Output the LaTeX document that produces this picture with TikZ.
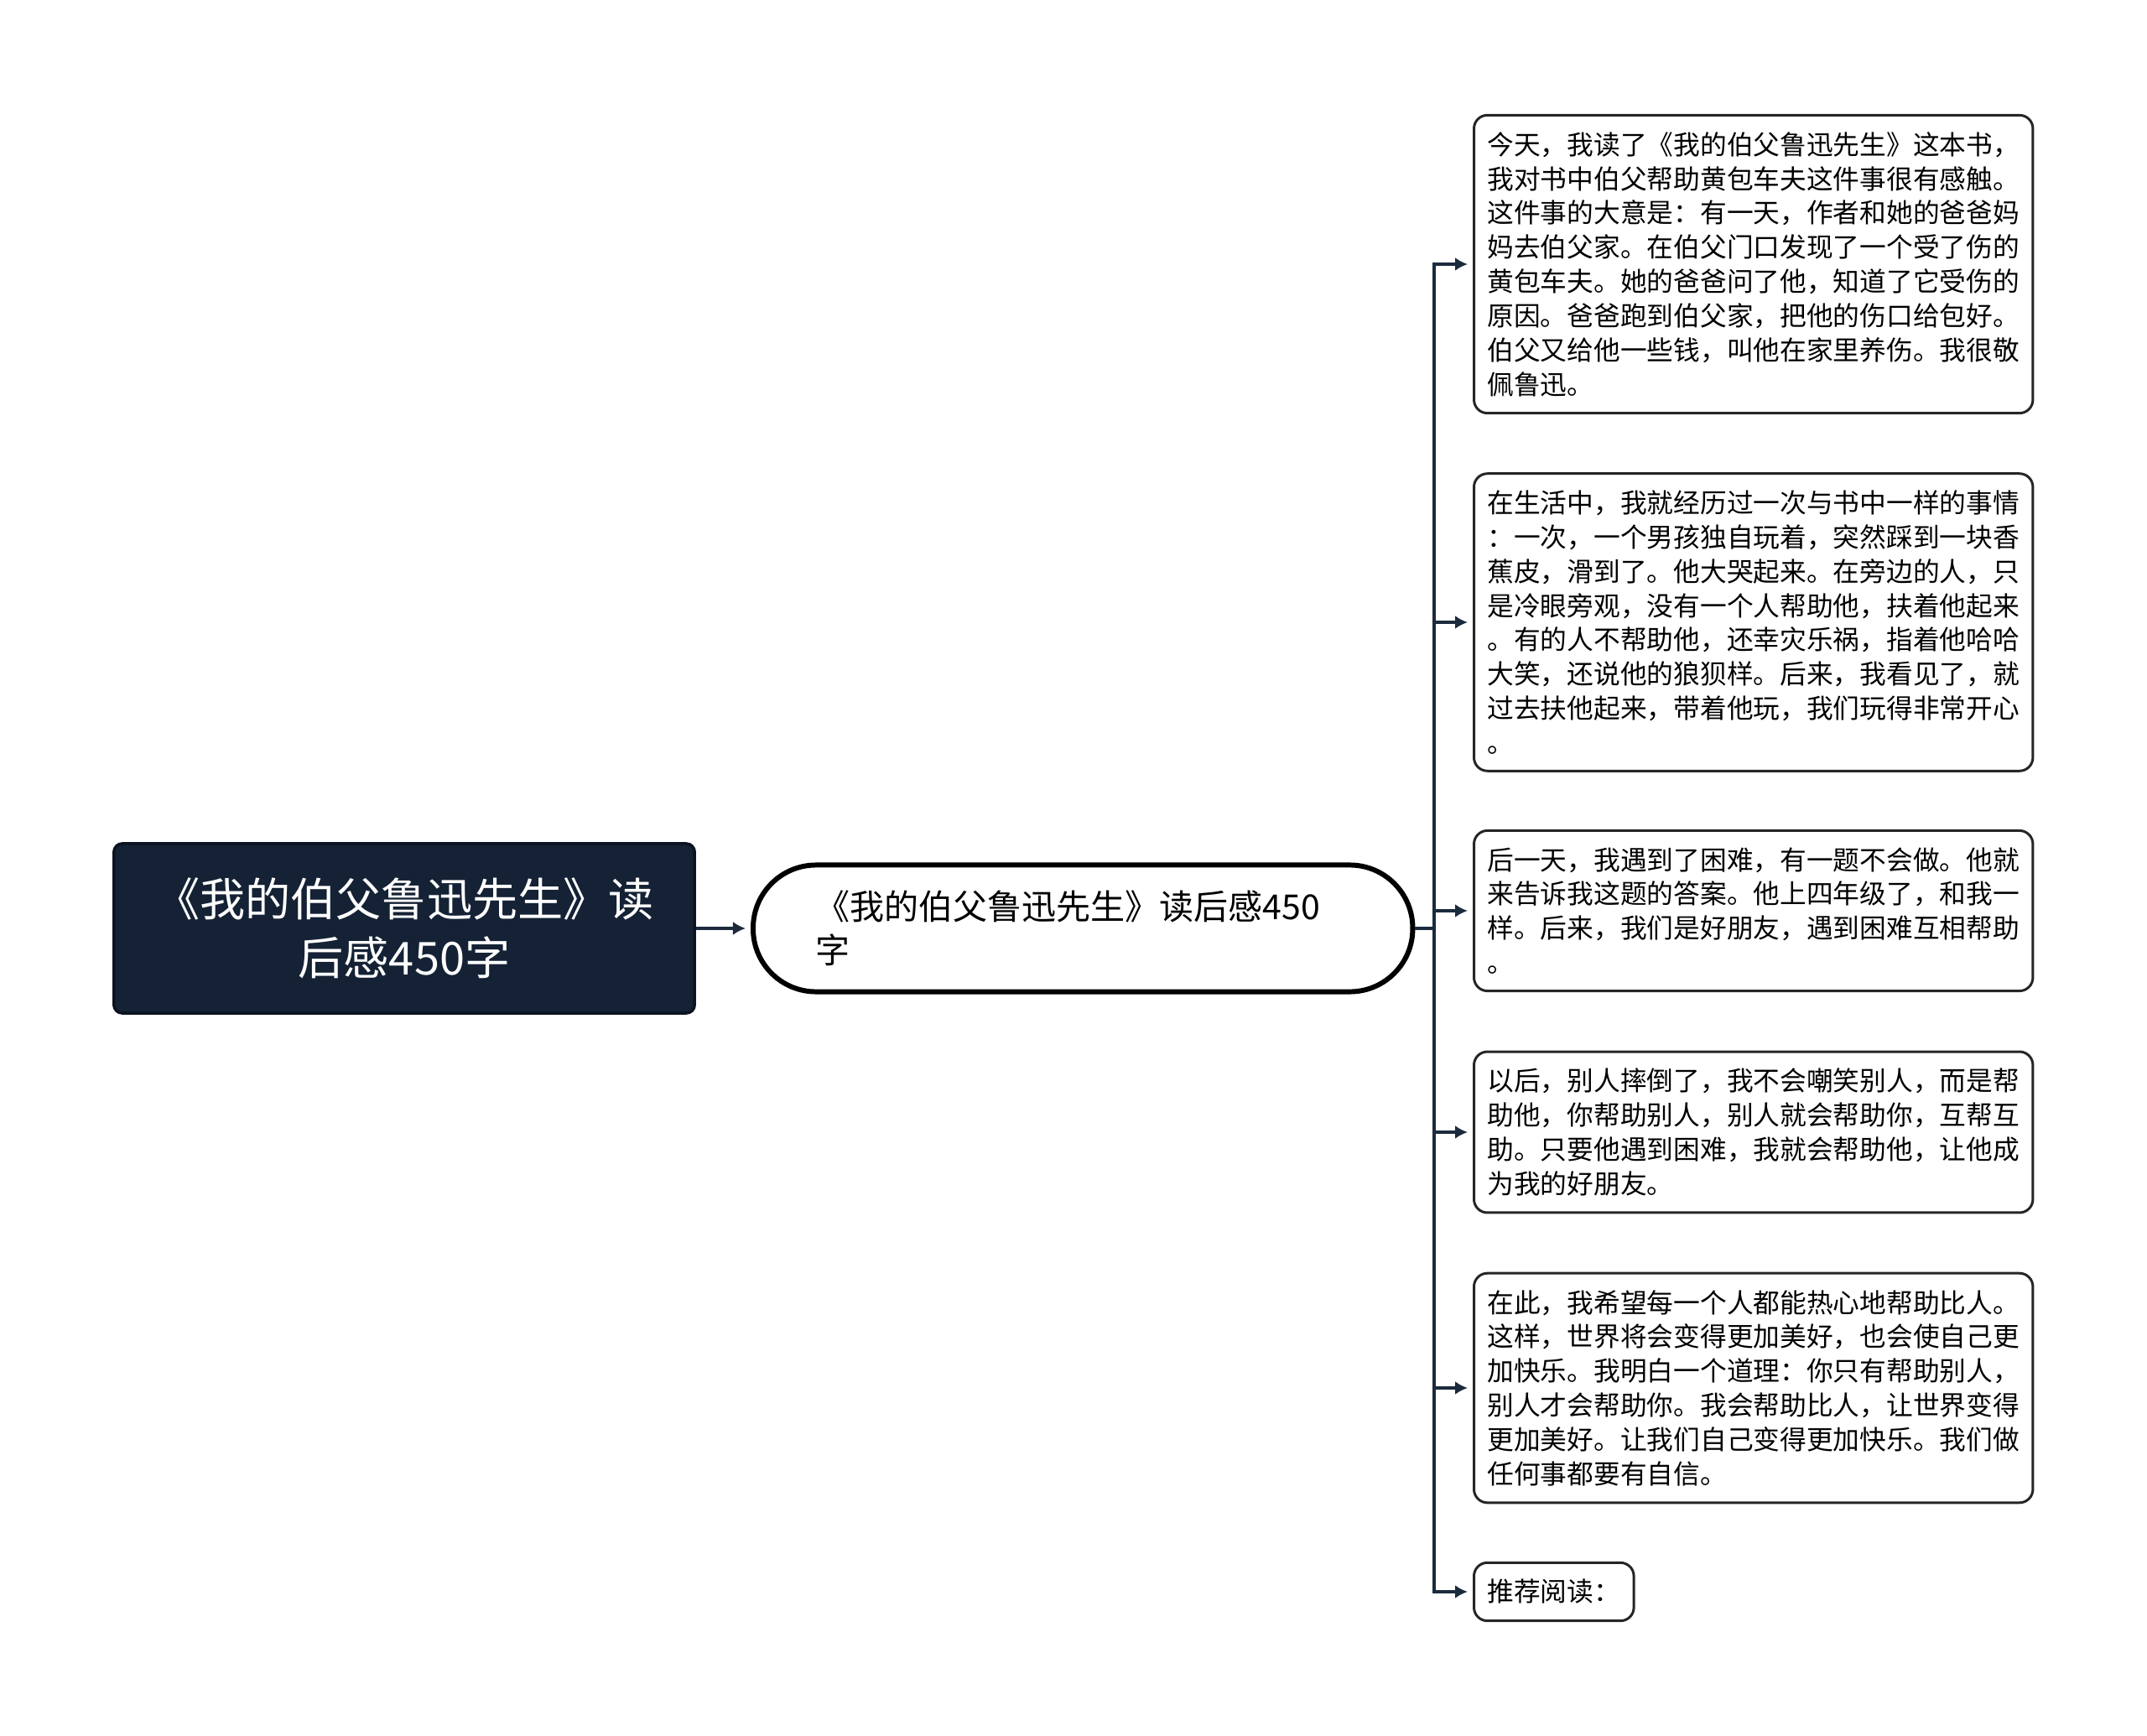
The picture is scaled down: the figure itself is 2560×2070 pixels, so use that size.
\documentclass[tikz,border=0pt]{standalone}
\usepackage{fontspec}
\newfontfamily\cjk{Noto Sans CJK SC}
\usetikzlibrary{positioning, arrows.meta}

\definecolor{rootfill}{HTML}{152235}
\definecolor{rootline}{HTML}{0B1320}
\definecolor{linkcol}{HTML}{1C2A3D}

\tikzset{
  rootnode/.style={draw=rootline, fill=rootfill, text=white, line width=1pt,
    rounded corners=0.1cm, align=center, minimum width=6.92cm, minimum height=2.02cm,
    font=\cjk\fontsize{15.4pt}{19.9pt}\selectfont},
  midnode/.style={draw=black, fill=white, line width=1.7pt, rounded corners=0.75cm,
    align=left, text width=6.38cm, minimum width=7.86cm, minimum height=1.51cm,
    font=\cjk\fontsize{11.67pt}{14.8pt}\selectfont},
  leafnode/.style={draw=black!85, fill=white, line width=0.85pt, rounded corners=0.16cm,
    align=left, anchor=west, inner xsep=0.16cm, inner ysep=0.2cm,
    font=\cjk\fontsize{9.02pt}{11.61pt}\selectfont},
  link/.style={draw=linkcol, line width=1.15pt, ->, shorten >=0.06cm}
}

\begin{document}
\begin{tikzpicture}[x=0.01cm, y=-0.01cm, >={Latex[length=0.15cm, width=0.16cm]}]
        \useasboundingbox (0,0) rectangle (2560,2070);
        \node[rootnode] (root) at (482,1107) {《我的伯父鲁迅先生》读\\后感450字};
        \node[midnode,
              right=0.65cm of root] (mid) {《我的伯父鲁迅先生》读后感450\\字};
        \node[leafnode] (p1) at (1756,315) {今天，我读了《我的伯父鲁迅先生》这本书，\\
              我对书中伯父帮助黄包车夫这件事很有感触。\\
              这件事的大意是：有一天，作者和她的爸爸妈\\
              妈去伯父家。在伯父门口发现了一个受了伤的\\
              黄包车夫。她的爸爸问了他，知道了它受伤的\\
              原因。爸爸跑到伯父家，把他的伤口给包好。\\
              伯父又给他一些钱，叫他在家里养伤。我很敬\\
              佩鲁迅。};
        \node[leafnode] (p2) at (1756,742) {在生活中，我就经历过一次与书中一样的事情\\
              ：一次，一个男孩独自玩着，突然踩到一块香\\
              蕉皮，滑到了。他大哭起来。在旁边的人，只\\
              是冷眼旁观，没有一个人帮助他，扶着他起来\\
              。有的人不帮助他，还幸灾乐祸，指着他哈哈\\
              大笑，还说他的狼狈样。后来，我看见了，就\\
              过去扶他起来，带着他玩，我们玩得非常开心\\
              。};
        \node[leafnode] (p3) at (1756,1086) {后一天，我遇到了困难，有一题不会做。他就\\
              来告诉我这题的答案。他上四年级了，和我一\\
              样。后来，我们是好朋友，遇到困难互相帮助\\
              。};
        \node[leafnode] (p4) at (1756,1350) {以后，别人摔倒了，我不会嘲笑别人，而是帮\\
              助他，你帮助别人，别人就会帮助你，互帮互\\
              助。只要他遇到困难，我就会帮助他，让他成\\
              为我的好朋友。};
        \node[leafnode] (p5) at (1756,1655) {在此，我希望每一个人都能热心地帮助比人。\\
              这样，世界将会变得更加美好，也会使自己更\\
              加快乐。我明白一个道理：你只有帮助别人，\\
              别人才会帮助你。我会帮助比人，让世界变得\\
              更加美好。让我们自己变得更加快乐。我们做\\
              任何事都要有自信。};
        \node[leafnode] (p6) at (1756,1898) {推荐阅读：};
        \draw[link] (root) -- (mid);
        \foreach \p in {p1,p2,p3,p4,p5,p6}
            \draw[link] (mid.east) -- ++(23,0) |- (\p.west);
\end{tikzpicture}
\end{document}
